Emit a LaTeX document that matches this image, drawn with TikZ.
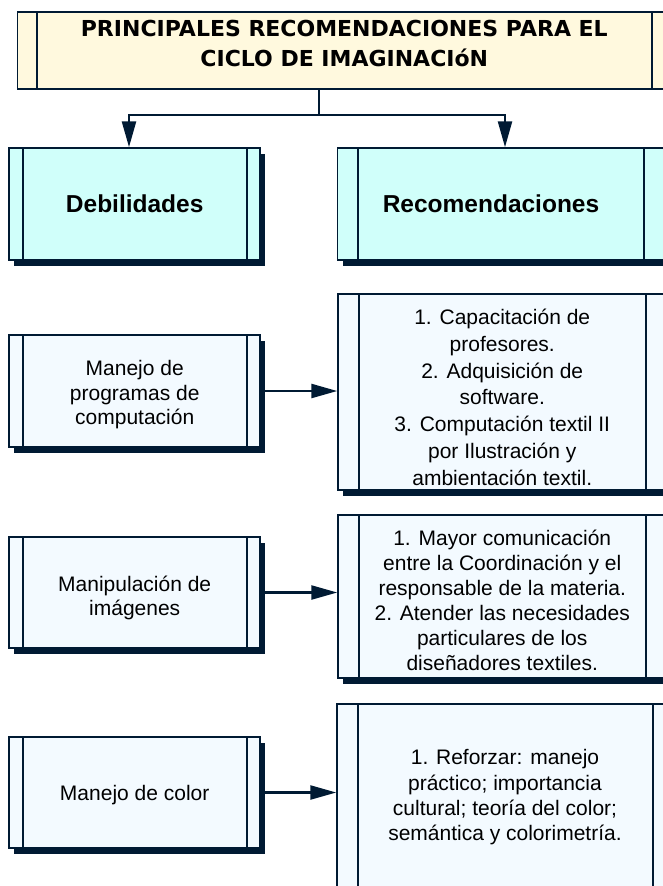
\documentclass[tikz,border=0pt]{standalone}
\usepackage{fontspec}
\setmainfont{Liberation Sans}
\newfontfamily\titlefont{DejaVu Sans}
\usetikzlibrary{arrows.meta,shadows,calc}
\definecolor{navy}{RGB}{0,26,51}
\definecolor{titlefill}{RGB}{255,249,222}
\definecolor{headfill}{RGB}{208,255,250}
\definecolor{boxfill}{RGB}{243,250,255}
\newcommand\lowr[1]{\rule{0pt}{#1pt}}
\begin{document}
\begin{tikzpicture}[x=1pt,y=-1pt,
  framed/.style={draw=navy, line width=1.5pt, rectangle, inner sep=0pt, anchor=center, text=black},
  bars/.style={path picture={
     \draw[navy,line width=2pt] ($(path picture bounding box.north west)+(#1,0)$) -- ($(path picture bounding box.south west)+(#1,0)$);
     \draw[navy,line width=2pt] ($(path picture bounding box.north east)+(-#1,0)$) -- ($(path picture bounding box.south east)+(-#1,0)$);}},
  shadowed/.style={drop shadow={shadow xshift=5pt, shadow yshift=-6pt, fill=navy, opacity=1}},
  headfont/.style={font=\fontsize{24.5}{28}\selectfont\bfseries},
  leftbox/.style={framed, bars=13.5, fill=boxfill, shadowed, minimum width=251pt, minimum height=112pt, align=center, font=\fontsize{21}{24.5}\selectfont},
  recbox/.style={framed, bars=20.5, fill=boxfill, shadowed, align=center},
  arrow/.style={draw=navy, line width=2.5pt, -{Triangle[length=26pt,width=14pt]}},
  conn/.style={draw=navy, line width=2.5pt},
]
\useasboundingbox (0,0) rectangle (663,886);
\clip (0,0) rectangle (663,886);

% title
\node[framed, bars=19, fill=titlefill, minimum width=653.3pt, minimum height=77pt,
  label={[font=\titlefont\fontsize{22}{30}\selectfont\bfseries, align=center, text=black, yshift=7.5pt]center:{PRINCIPALES RECOMENDACIONES PARA EL\\CICLO DE IMAGINACIóN}}]
  (title) at (344.3,50.5) {};

% headers
\node[framed, bars=13.5, fill=headfill, shadowed, minimum width=251pt, minimum height=112pt, headfont]
  (deb) at (134.7,204) {Debilidades};
\node[framed, bars=20.5, fill=headfill, shadowed, minimum width=327pt, minimum height=112pt, headfont]
  (rech) at (501,204) {\hspace*{-20pt}Recomendaciones};

% left column
\node[leftbox] (m1) at (134.7,391) {\lowr{23}Manejo de\\programas de\\computación};
\node[leftbox, minimum height=111pt] (m2) at (134.7,592.5) {\lowr{26}Manipulación de\\imágenes};
\node[leftbox, minimum height=111pt] (m3) at (134.7,792.5) {\lowr{21}Manejo de color};

% right column
\node[recbox, minimum width=328.5pt, minimum height=196pt, font=\fontsize{21}{26.7}\selectfont]
  (r1) at (502.25,392) {\lowr{26}1. Capacitación de\\profesores.\\2. Adquisición de\\software.\\3. Computación textil II\\por Ilustración y\\ambientación textil.};
\node[recbox, minimum width=328.5pt, minimum height=163pt, font=\fontsize{21}{25}\selectfont]
  (r2) at (502.25,596.5) {\lowr{24}1. Mayor comunicación\\entre la Coordinación y el\\responsable de la materia.\\2. Atender las necesidades\\particulares de los\\diseñadores textiles.};
\node[recbox, minimum width=336pt, minimum height=183pt, font=\fontsize{21}{25.3}\selectfont]
  (r3) at (505,795.5) {\lowr{19}1. Reforzar: manejo\\práctico; importancia\\cultural; teoría del color;\\semántica y colorimetría.};

% connectors
\coordinate (split) at (319,115);
\coordinate (jL) at (129,115);
\coordinate (jR) at (505,115);
\draw[conn] (title.south -| split) -- (split);
\draw[arrow] (split) -- (jL) -- (jL |- deb.north);
\draw[arrow] (split) -- (jR) -- (jR |- rech.north);

\draw[arrow] (m1.east) -- (m1.east -| r1.west);
\draw[arrow] (m2.east) -- (m2.east -| r2.west);
\draw[arrow] (m3.east) -- (m3.east -| r3.west);
\end{tikzpicture}
\end{document}
